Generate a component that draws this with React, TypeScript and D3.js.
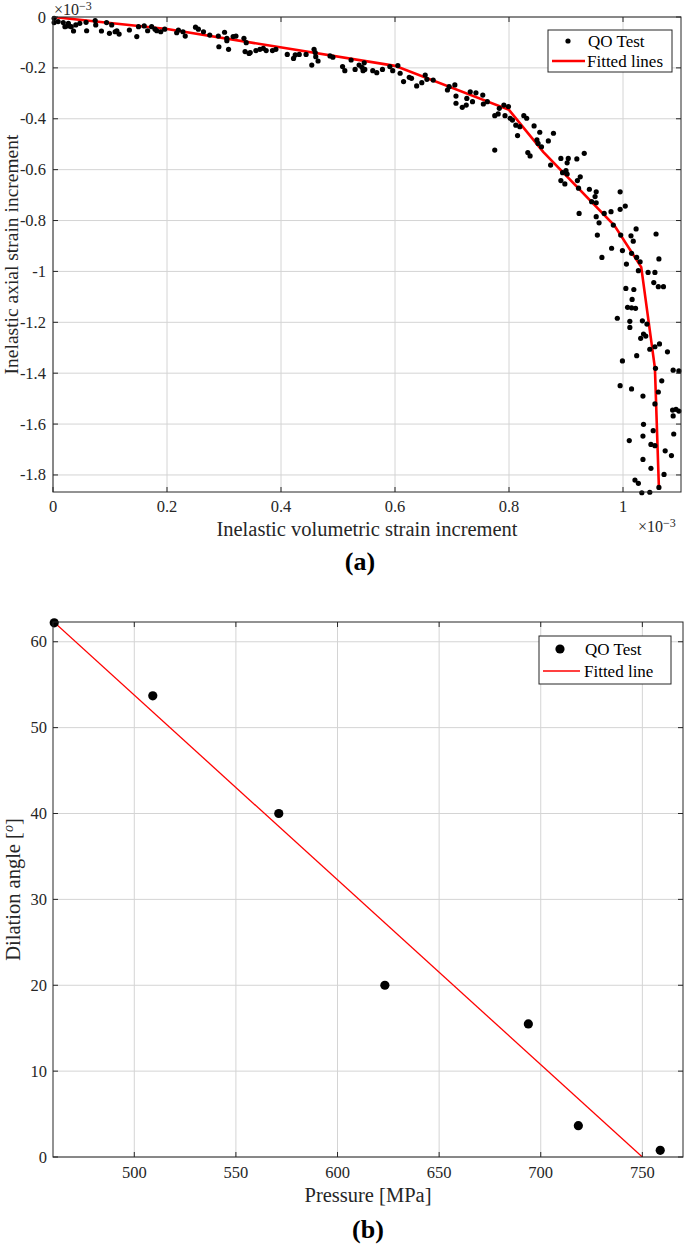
import React from "react";
import * as d3 from "d3";

// ---------- Chart (a) data (units of 1e-3) ----------
const qoTestA: [number, number][] = [
  [0.002,-0.005],[0.002,-0.022],[0.009,-0.018],[0.018,-0.022],[0.021,-0.038],[0.027,-0.025],[0.027,-0.035],[0.032,-0.038],
  [0.036,-0.055],[0.040,-0.031],[0.047,-0.025],[0.058,-0.021],[0.059,-0.054],[0.074,-0.014],[0.075,-0.031],[0.085,-0.055],
  [0.094,-0.022],[0.099,-0.064],[0.103,-0.031],[0.109,-0.058],[0.112,-0.054],[0.116,-0.067],[0.134,-0.051],[0.147,-0.077],
  [0.150,-0.038],[0.160,-0.035],[0.166,-0.054],[0.173,-0.038],[0.179,-0.048],[0.182,-0.054],[0.189,-0.058],[0.196,-0.048],
  [0.217,-0.062],[0.220,-0.051],[0.228,-0.058],[0.232,-0.075],[0.250,-0.040],[0.255,-0.048],[0.264,-0.058],[0.275,-0.071],
  [0.290,-0.075],[0.291,-0.117],[0.301,-0.060],[0.305,-0.093],[0.308,-0.127],[0.305,-0.084],[0.316,-0.077],[0.321,-0.075],
  [0.335,-0.084],[0.339,-0.101],[0.337,-0.136],[0.344,-0.143],
  [0.346,-0.140],[0.356,-0.132],[0.363,-0.127],[0.369,-0.123],[0.374,-0.132],[0.385,-0.132],[0.391,-0.127],[0.411,-0.147],
  [0.422,-0.163],[0.425,-0.149],[0.432,-0.147],[0.444,-0.147],[0.454,-0.189],[0.458,-0.127],[0.460,-0.140],[0.461,-0.156],
  [0.465,-0.173],[0.486,-0.153],[0.491,-0.158],[0.508,-0.195],[0.512,-0.211],[0.523,-0.169],[0.530,-0.206],[0.537,-0.189],
  [0.542,-0.198],[0.546,-0.180],[0.544,-0.211],[0.547,-0.206],[0.561,-0.211],[0.568,-0.219],[0.578,-0.206],[0.591,-0.195],
  [0.596,-0.211],[0.605,-0.191],[0.609,-0.221],[0.615,-0.254],[0.625,-0.237],[0.629,-0.241],[0.638,-0.271],[0.647,-0.258],
  [0.653,-0.228],[0.656,-0.245],[0.667,-0.248],[0.692,-0.287],[0.695,-0.274],[0.705,-0.267],[0.707,-0.311],[0.707,-0.339],
  [0.718,-0.355],[0.725,-0.346],[0.726,-0.320],[0.732,-0.294],[0.736,-0.333],[0.742,-0.298],[0.754,-0.307],[0.755,-0.342],
  [0.762,-0.333],[0.775,-0.388],[0.781,-0.381],[0.783,-0.359],[0.775,-0.523],
  [0.791,-0.346],[0.799,-0.352],[0.793,-0.388],[0.802,-0.398],[0.806,-0.405],[0.812,-0.425],[0.815,-0.466],[0.819,-0.431],
  [0.826,-0.388],[0.831,-0.398],[0.833,-0.533],[0.844,-0.428],[0.849,-0.483],[0.854,-0.453],[0.851,-0.497],[0.857,-0.510],
  [0.869,-0.487],[0.878,-0.457],
  [0.837,-0.546],[0.873,-0.582],[0.891,-0.556],[0.902,-0.573],[0.904,-0.556],[0.919,-0.558],[0.932,-0.536],[0.894,-0.612],
  [0.900,-0.604],[0.902,-0.617],[0.891,-0.643],[0.898,-0.656],[0.920,-0.643],[0.925,-0.628],[0.922,-0.673],[0.941,-0.677],
  [0.953,-0.687],[0.945,-0.726],[0.953,-0.730],[0.951,-0.706],[0.995,-0.687],[0.923,-0.772],[0.953,-0.785],[0.958,-0.809],
  [0.967,-0.772],[0.979,-0.765],[0.983,-0.818],[0.995,-0.756],[1.004,-0.743],[0.955,-0.857],[0.996,-0.857],[1.014,-0.860],
  [1.023,-0.833],[1.018,-0.881],[1.058,-0.853],[0.980,-0.909],[0.999,-0.918],[0.963,-0.945],[1.006,-0.971],[1.015,-0.929],
  [1.024,-0.945],[1.030,-0.962],[1.027,-0.997],[1.044,-1.004],[1.056,-1.004],[1.063,-0.951],[1.054,-1.044],[1.062,-1.060],
  [1.071,-1.060],[1.005,-1.067],[1.019,-1.071],[1.016,-1.110],[1.008,-1.141],[1.015,-1.143],[1.022,-1.145],[0.990,-1.184],
  [1.012,-1.196],[1.034,-1.194],[1.042,-1.207],[1.012,-1.220],
  [1.036,-1.246],[1.040,-1.254],[1.031,-1.263],[1.047,-1.306],[1.056,-1.296],[1.064,-1.285],[1.078,-1.316],[1.024,-1.331],
  [0.999,-1.352],[1.057,-1.381],[1.088,-1.388],[1.098,-1.391],[1.068,-1.430],[0.995,-1.449],[1.015,-1.462],[1.035,-1.490],
  [1.062,-1.474],[1.056,-1.521],[1.087,-1.545],[1.093,-1.542],[1.098,-1.549],[1.088,-1.568],[1.036,-1.601],[1.053,-1.626],
  [1.089,-1.639],[1.035,-1.647],[1.011,-1.665],[1.049,-1.680],[1.056,-1.685],[1.074,-1.705],[1.085,-1.724],[1.035,-1.739],
  [1.049,-1.774],[1.072,-1.798],[1.021,-1.820],[1.027,-1.833],[1.063,-1.849],[1.033,-1.870],[1.047,-1.868],
];
const fittedA: [number, number][] = [
  [0, 0], [0.2, -0.047], [0.6, -0.192], [0.8, -0.365], [0.86, -0.53], [0.985, -0.82], [1.032, -0.983], [1.056, -1.38], [1.063, -1.85],
];
const xTicksA = [0, 0.2, 0.4, 0.6, 0.8, 1];
const yTicksA = [0, -0.2, -0.4, -0.6, -0.8, -1, -1.2, -1.4, -1.6, -1.8];

// ---------- Chart (b) data ----------
const pressure = [460.6, 509.1, 571.1, 623.3, 693.9, 718.5, 758.8];
const dilation = [62.2, 53.7, 40.0, 20.0, 15.5, 3.65, 0.78];
const fittedB: [number, number][] = [[460.6, 62.26], [750, 0]];
const xTicksB = [500, 550, 600, 650, 700, 750];
const yTicksB = [0, 10, 20, 30, 40, 50, 60];

const FONT = "'Liberation Serif', 'Times New Roman', serif";
const AX = "#262626";
const GRID = "#d4d4d4";
const TICK_FS = 16.5;
const LABEL_FS = 20.5;
const LEG_FS = 17;

function fmtA(v: number) {
  if (v === 0) return "0";
  if (v === 1) return "1";
  return String(Math.round(v * 10) / 10);
}

export default function App() {
  // chart (a)
  const a = { l: 53, r: 681, t: 17, b: 492 };
  const xA = d3.scaleLinear().domain([0, 1.1]).range([a.l, 680]);
  const yA = d3.scaleLinear().domain([0, -1.867]).range([a.t, a.b]);
  const lineA = d3.line<[number, number]>().x((d) => xA(d[0])).y((d) => yA(d[1]));

  // chart (b)
  const b = { l: 53, r: 683, t: 622, b: 1157 };
  const xB = d3.scaleLinear().domain([460, 770]).range([b.l, b.r]);
  const yB = d3.scaleLinear().domain([0, 62.3]).range([b.b, b.t]);
  const lineB = d3.line<[number, number]>().x((d) => xB(d[0])).y((d) => yB(d[1]));

  const tl = 5;

  return (
    <svg width={685} height={1248} style={{ position: "absolute", left: 0, top: 0, background: "#fff" }} fontFamily={FONT}>
      <defs>
        <clipPath id="clipA"><rect x={a.l} y={a.t} width={a.r - a.l} height={a.b - a.t} /></clipPath>
        <clipPath id="clipB"><rect x={b.l} y={b.t} width={b.r - b.l} height={b.b - b.t} /></clipPath>
      </defs>

      {/* ===== Chart (a) ===== */}
      <g>
        {xTicksA.map((t) => (
          <line key={"gxa" + t} x1={xA(t)} x2={xA(t)} y1={a.t} y2={a.b} stroke={GRID} strokeWidth={1} />
        ))}
        {yTicksA.map((t) => (
          <line key={"gya" + t} x1={a.l} x2={a.r} y1={yA(t)} y2={yA(t)} stroke={GRID} strokeWidth={1} />
        ))}
        <path d={lineA(fittedA) || ""} fill="none" stroke="#ff0000" strokeWidth={2.6} clipPath="url(#clipA)" />
        {qoTestA.map((d, i) => (
          <circle key={"pa" + i} cx={xA(d[0])} cy={yA(d[1])} r={2.6} fill="#000" />
        ))}
        <rect x={a.l} y={a.t} width={a.r - a.l} height={a.b - a.t} fill="none" stroke={AX} strokeWidth={1} />
        {xTicksA.map((t) => (
          <g key={"txa" + t}>
            <line x1={xA(t)} x2={xA(t)} y1={a.b} y2={a.b - tl} stroke={AX} />
            <line x1={xA(t)} x2={xA(t)} y1={a.t} y2={a.t + tl} stroke={AX} />
            <text x={xA(t)} y={512} textAnchor="middle" fontSize={TICK_FS} fill="#262626">{fmtA(t)}</text>
          </g>
        ))}
        {yTicksA.map((t) => (
          <g key={"tya" + t}>
            <line x1={a.l} x2={a.l + tl} y1={yA(t)} y2={yA(t)} stroke={AX} />
            <line x1={a.r} x2={a.r - tl} y1={yA(t)} y2={yA(t)} stroke={AX} />
            <text x={46} y={yA(t) + 5.5} textAnchor="end" fontSize={TICK_FS} fill="#262626">{fmtA(t)}</text>
          </g>
        ))}
        <text x={54} y={15} fontSize={16} fill="#262626">×10<tspan dy={-5} fontSize={12}>−3</tspan></text>
        <text x={638} y={532} fontSize={16} fill="#262626">×10<tspan dy={-5} fontSize={12}>−3</tspan></text>
        <text x={367} y={536} textAnchor="middle" fontSize={LABEL_FS} fill="#262626">Inelastic volumetric strain increment</text>
        <text transform={`translate(18,${(a.t + a.b) / 2}) rotate(-90)`} textAnchor="middle" fontSize={19.5} fill="#262626">
          Inelastic axial strain increment
        </text>
        <text x={360} y={570} textAnchor="middle" fontSize={26} fontWeight="bold" fill="#000">(a)</text>

        {/* legend (a) */}
        <rect x={548} y={30} width={124} height={42} fill="#fff" stroke={AX} strokeWidth={1} />
        <circle cx={568} cy={41} r={2.6} fill="#000" />
        <text x={588} y={46.5} fontSize={LEG_FS} fill="#000">QO Test</text>
        <line x1={552} x2={585} y1={61} y2={61} stroke="#ff0000" strokeWidth={2.6} />
        <text x={587} y={66.5} fontSize={LEG_FS} fill="#000">Fitted lines</text>
      </g>

      {/* ===== Chart (b) ===== */}
      <g>
        {xTicksB.map((t) => (
          <line key={"gxb" + t} x1={xB(t)} x2={xB(t)} y1={b.t} y2={b.b} stroke={GRID} strokeWidth={1} />
        ))}
        {yTicksB.map((t) => (
          <line key={"gyb" + t} x1={b.l} x2={b.r} y1={yB(t)} y2={yB(t)} stroke={GRID} strokeWidth={1} />
        ))}
        <path d={lineB(fittedB) || ""} fill="none" stroke="#ff0000" strokeWidth={1.3} clipPath="url(#clipB)" />
        {pressure.map((p, i) => (
          <circle key={"pb" + i} cx={xB(p)} cy={yB(dilation[i])} r={4.6} fill="#000" />
        ))}
        <rect x={b.l} y={b.t} width={b.r - b.l} height={b.b - b.t} fill="none" stroke={AX} strokeWidth={1} />
        {xTicksB.map((t) => (
          <g key={"txb" + t}>
            <line x1={xB(t)} x2={xB(t)} y1={b.b} y2={b.b - tl} stroke={AX} />
            <line x1={xB(t)} x2={xB(t)} y1={b.t} y2={b.t + tl} stroke={AX} />
            <text x={xB(t)} y={1178} textAnchor="middle" fontSize={TICK_FS} fill="#262626">{t}</text>
          </g>
        ))}
        {yTicksB.map((t) => (
          <g key={"tyb" + t}>
            <line x1={b.l} x2={b.l + tl} y1={yB(t)} y2={yB(t)} stroke={AX} />
            <line x1={b.r} x2={b.r - tl} y1={yB(t)} y2={yB(t)} stroke={AX} />
            <text x={47} y={yB(t) + 5.5} textAnchor="end" fontSize={TICK_FS} fill="#262626">{t}</text>
          </g>
        ))}
        <text x={368} y={1202} textAnchor="middle" fontSize={LABEL_FS} fill="#262626">Pressure [MPa]</text>
        <text transform={`translate(20,${(b.t + b.b) / 2}) rotate(-90)`} textAnchor="middle" fontSize={LABEL_FS} fill="#262626">
          Dilation angle [<tspan dy={-7} fontSize={14} fontStyle="italic">o</tspan><tspan dy={7}>]</tspan>
        </text>
        <text x={368} y={1238} textAnchor="middle" fontSize={26} fontWeight="bold" fill="#000">(b)</text>

        {/* legend (b) */}
        <rect x={539} y={636} width={132} height={48} fill="#fff" stroke={AX} strokeWidth={1} />
        <circle cx={560} cy={649} r={4.6} fill="#000" />
        <text x={585} y={655} fontSize={LEG_FS} fill="#000">QO Test</text>
        <line x1={543} x2={580} y1={671} y2={671} stroke="#ff0000" strokeWidth={1.3} />
        <text x={584} y={677} fontSize={LEG_FS} fill="#000">Fitted line</text>
      </g>
    </svg>
  );
}
